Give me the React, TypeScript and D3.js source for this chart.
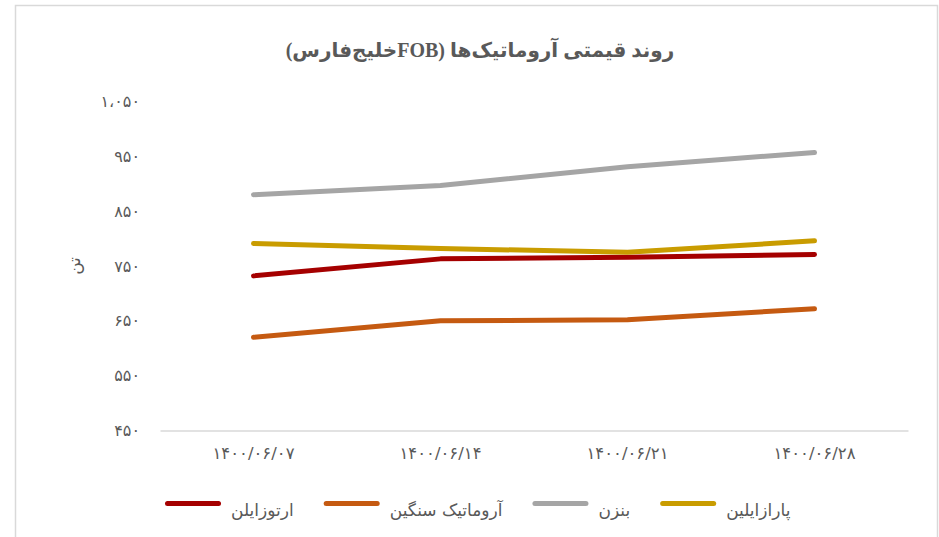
import React, { useEffect, useRef } from "react";
import * as d3 from "d3";

const categories = ["۱۴۰۰/۰۶/۰۷", "۱۴۰۰/۰۶/۱۴", "۱۴۰۰/۰۶/۲۱", "۱۴۰۰/۰۶/۲۸"];

const orthoxylene = [732, 763, 766, 771];
const heavyAromatic = [620, 650, 652, 672];
const benzene = [880, 897, 931, 957];
const paraxylene = [791, 782, 775, 796];

const seriesNames = ["ارتوزایلن", "آروماتیک سنگین", "بنزن", "پارازایلین"];
const seriesColors = ["#A50000", "#C55A11", "#A5A5A5", "#C99C00"];

const yTicks = [450, 550, 650, 750, 850, 950, 1050];

const title = "روند قیمتی آروماتیک‌ها (FOBخلیج‌فارس)";
const yLabel = "تن";

const toPersian = (s: string) =>
  s.replace(/\d/g, (d) => "۰۱۲۳۴۵۶۷۸۹"[+d]).replace(/,/g, "،");

const FONT = "'DejaVu Sans', sans-serif";

const App: React.FC = () => {
  const ref = useRef<SVGSVGElement | null>(null);

  useEffect(() => {
    const width = 939;
    const height = 537;
    const margin = { top: 101.5, right: 31, bottom: 106.5, left: 160 };

    const svg = d3.select(ref.current);
    svg.selectAll("*").remove();
    svg.attr("width", width).attr("height", height);

    svg
      .append("rect")
      .attr("x", 15.5)
      .attr("y", 5.5)
      .attr("width", 922)
      .attr("height", 540)
      .attr("fill", "white")
      .attr("stroke", "#D9D9D9")
      .attr("stroke-width", 1.5);

    const series = [orthoxylene, heavyAromatic, benzene, paraxylene].map(
      (values, i) => ({ name: seriesNames[i], color: seriesColors[i], values })
    );

    const x = d3
      .scaleBand<string>()
      .domain(categories)
      .range([margin.left, width - margin.right]);

    const y = d3
      .scaleLinear()
      .domain([450, 1050])
      .range([height - margin.bottom, margin.top]);

    svg
      .append("text")
      .attr("x", 480)
      .attr("y", 57)
      .attr("text-anchor", "middle")
      .attr("direction", "rtl")
      .style("font-family", "'Liberation Serif', 'DejaVu Sans', serif")
      .style("font-size", "20px")
      .style("font-weight", "bold")
      .style("fill", "#595959")
      .text(title);

    // y axis: labels only, no line
    const yAxis = svg
      .append("g")
      .attr("transform", `translate(${margin.left - 20},0)`)
      .call(
        d3
          .axisLeft(y)
          .tickValues(yTicks)
          .tickSize(0)
          .tickFormat((d) => toPersian(d3.format(",")(d as number)))
      );
    yAxis.select(".domain").remove();
    yAxis
      .selectAll("text")
      .attr("x", 0)
      .style("font-family", FONT)
      .style("font-size", "16px")
      .style("fill", "#595959");

    svg
      .append("text")
      .attr("transform", `translate(74,${y(750)}) rotate(-90)`)
      .attr("text-anchor", "middle")
      .attr("dy", "0.35em")
      .style("font-family", FONT)
      .style("font-size", "17px")
      .style("fill", "#595959")
      .text(yLabel);

    // x axis
    const xAxis = svg
      .append("g")
      .attr("transform", `translate(0,${height - margin.bottom})`)
      .call(d3.axisBottom(x).tickSize(0).tickPadding(17));
    xAxis.select(".domain").attr("stroke", "#D9D9D9").attr("stroke-width", 1.5);
    xAxis
      .selectAll("text")
      .style("font-family", FONT)
      .style("font-size", "16.5px")
      .style("fill", "#595959");

    const line = d3
      .line<number>()
      .x((_d, i) => (x(categories[i]) as number) + x.bandwidth() / 2)
      .y((d) => y(d));

    svg
      .append("g")
      .selectAll("path")
      .data(series)
      .enter()
      .append("path")
      .attr("fill", "none")
      .attr("stroke", (d) => d.color)
      .attr("stroke-width", 5)
      .attr("stroke-linecap", "round")
      .attr("stroke-linejoin", "round")
      .attr("d", (d) => line(d.values));

    // legend, laid out left to right
    const legend = svg.append("g");
    let lx = 165;
    series.forEach((s) => {
      legend
        .append("line")
        .attr("x1", lx + 2.5)
        .attr("x2", lx + 53.5)
        .attr("y1", 503.5)
        .attr("y2", 503.5)
        .attr("stroke", s.color)
        .attr("stroke-width", 5)
        .attr("stroke-linecap", "round");
      const t = legend
        .append("text")
        .attr("x", lx + 66)
        .attr("y", 516)
        .attr("text-anchor", "start")
        .style("font-family", FONT)
        .style("font-size", "17px")
        .style("fill", "#595959")
        .text(s.name);
      const w = (t.node() as SVGTextElement).getComputedTextLength();
      lx += 66 + w + 30;
    });
  }, []);

  return <svg ref={ref} style={{ position: "absolute", left: 0, top: 0 }} />;
};

export default App;
